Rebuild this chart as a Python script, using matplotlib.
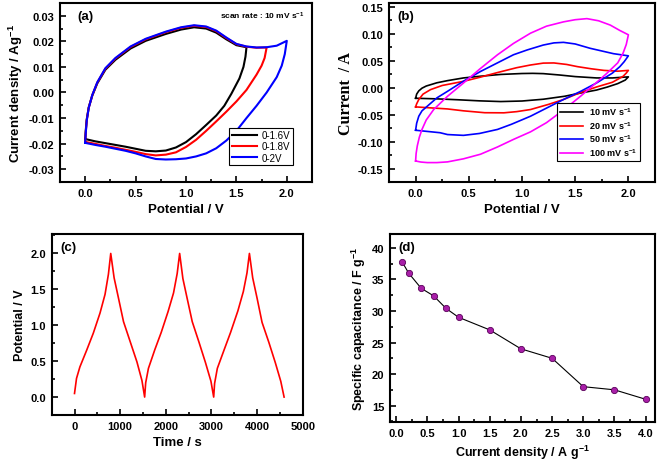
"""
    Four-panel supercapacitor figure: CV windows, CV scan rates, GCD cycles, rate capability.
"""

import numpy as np
import matplotlib
matplotlib.use("Agg")
import matplotlib.pyplot as plt
from matplotlib.ticker import MultipleLocator

plt.rcParams["font.family"] = "Liberation Sans"
plt.rcParams["font.weight"] = "bold"
plt.rcParams["mathtext.default"] = "regular"

# (a) CV at 10 mV/s for three potential windows (forward sweep then reverse)
v_16 = [0, 0.005, 0.015, 0.035, 0.07, 0.12, 0.2, 0.3, 0.45, 0.6, 0.8, 0.95, 1.08, 1.2, 1.3, 1.4, 1.5, 1.6,
        1.59, 1.57, 1.53, 1.45, 1.38, 1.3, 1.2, 1.1, 1.0, 0.9, 0.8, 0.7, 0.6, 0.5, 0.4, 0.3, 0.2, 0.1, 0.0]
i_16 = [-0.0182, -0.0150, -0.0105, -0.0058, -0.0012, 0.0036, 0.0089, 0.0128, 0.0172, 0.0202, 0.0229, 0.0246,
        0.0255, 0.0250, 0.0234, 0.0208, 0.0185, 0.0177,
        0.0140, 0.0100, 0.0055, -0.0005, -0.0052, -0.0090, -0.0127, -0.0163, -0.0194, -0.0215, -0.0227,
        -0.0230, -0.0228, -0.0220, -0.0212, -0.0205, -0.0198, -0.0191, -0.0182]

v_18 = [0, 0.005, 0.015, 0.035, 0.07, 0.12, 0.2, 0.3, 0.45, 0.6, 0.8, 0.95, 1.08, 1.2, 1.3, 1.4, 1.5, 1.6, 1.7, 1.8,
        1.78, 1.75, 1.7, 1.6, 1.5, 1.4, 1.3, 1.2, 1.1, 1.0, 0.9, 0.8, 0.7, 0.6, 0.5, 0.4, 0.3, 0.2, 0.1, 0.0]
i_18 = [-0.0193, -0.0158, -0.0109, -0.0059, -0.0011, 0.0039, 0.0093, 0.0133, 0.0178, 0.0208, 0.0236, 0.0253,
        0.0261, 0.0256, 0.0240, 0.0213, 0.0189, 0.0179, 0.0175, 0.0176,
        0.0135, 0.0105, 0.0070, 0.0010, -0.0035, -0.0075, -0.0113, -0.0150, -0.0185, -0.0213, -0.0234,
        -0.0243, -0.0246, -0.0241, -0.0232, -0.0224, -0.0216, -0.0209, -0.0201, -0.0193]

v_20 = [0, 0.005, 0.015, 0.035, 0.07, 0.12, 0.2, 0.3, 0.45, 0.6, 0.8, 0.95, 1.08, 1.2, 1.3, 1.4, 1.5, 1.6, 1.7,
        1.8, 1.9, 2.0,
        1.98, 1.95, 1.9, 1.8, 1.7, 1.6, 1.5, 1.4, 1.3, 1.2, 1.1, 1.0, 0.9, 0.8, 0.7, 0.6, 0.5, 0.4, 0.3, 0.2,
        0.1, 0.0]
i_20 = [-0.0196, -0.0160, -0.0110, -0.0060, -0.0010, 0.0040, 0.0095, 0.0135, 0.0180, 0.0210, 0.0238, 0.0255,
        0.0263, 0.0258, 0.0242, 0.0215, 0.0190, 0.0180, 0.0176, 0.0177, 0.0183, 0.0202,
        0.0150, 0.0105, 0.0060, 0.0000, -0.0052, -0.0100, -0.0150, -0.0188, -0.0218, -0.0238, -0.0250,
        -0.0258, -0.0261, -0.0262, -0.0260, -0.0250, -0.0238, -0.0228, -0.0220, -0.0212, -0.0205, -0.0197]

# (b) CV at different scan rates
v_10 = [0, 0.01, 0.03, 0.06, 0.1, 0.2, 0.3, 0.45, 0.6, 0.8, 1.0, 1.1, 1.2, 1.35, 1.5, 1.7, 1.85, 2.0,
        1.97, 1.9, 1.8, 1.7, 1.55, 1.4, 1.2, 1.0, 0.8, 0.6, 0.4, 0.2, 0.0]
c_10 = [-0.0197, -0.012, -0.006, -0.001, 0.003, 0.009, 0.013, 0.018, 0.021, 0.0245, 0.0262, 0.0265, 0.0260,
        0.0235, 0.0205, 0.0180, 0.0180, 0.0200,
        0.014, 0.0075, 0.0010, -0.0045, -0.010, -0.016, -0.0215, -0.0248, -0.0258, -0.0245, -0.0225, -0.0208,
        -0.0197]

v_20mv = [0, 0.01, 0.03, 0.07, 0.14, 0.25, 0.45, 0.6, 0.77, 0.95, 1.08, 1.2, 1.3, 1.42, 1.52, 1.65, 1.77, 1.9, 2.0,
          1.98, 1.95, 1.85, 1.7, 1.55, 1.39, 1.25, 1.08, 0.95, 0.83, 0.65, 0.45, 0.3, 0.14, 0.0]
c_20mv = [-0.0357, -0.030, -0.022, -0.012, -0.0037, 0.004, 0.0117, 0.019, 0.028, 0.037, 0.042, 0.0455, 0.0458,
          0.043, 0.039, 0.035, 0.032, 0.0305, 0.032,
          0.027, 0.021, 0.010, 0.0012, -0.009, -0.022, -0.031, -0.0406, -0.0445, -0.0467, -0.0465, -0.0430,
          -0.0395, -0.0375, -0.0357]

v_50 = [0, 0.01, 0.03, 0.06, 0.11, 0.2, 0.3, 0.45, 0.61, 0.77, 0.92, 1.05, 1.2, 1.3, 1.39, 1.5, 1.64, 1.75, 1.86, 2.0,
        1.96, 1.92, 1.85, 1.7, 1.55, 1.39, 1.2, 1.08, 0.9, 0.77, 0.6, 0.45, 0.3, 0.23, 0.1, 0.0]
c_50 = [-0.079, -0.066, -0.053, -0.043, -0.0344, -0.019, -0.0068, 0.012, 0.030, 0.046, 0.061, 0.070, 0.079,
        0.083, 0.084, 0.081, 0.073, 0.068, 0.063, 0.059,
        0.048, 0.039, 0.027, 0.0086, -0.007, -0.022, -0.041, -0.053, -0.068, -0.0775, -0.085, -0.0885,
        -0.087, -0.0836, -0.081, -0.079]

v_100 = [0, 0.005, 0.016, 0.035, 0.06, 0.1, 0.17, 0.3, 0.45, 0.6, 0.77, 0.92, 1.08, 1.23, 1.39, 1.5, 1.61, 1.72,
         1.83, 1.92, 2.0,
         1.98, 1.95, 1.9, 1.8, 1.68, 1.55, 1.4, 1.23, 1.08, 0.92, 0.77, 0.61, 0.45, 0.3, 0.2, 0.11, 0.05, 0.0]
c_100 = [-0.136, -0.122, -0.108, -0.092, -0.0775, -0.060, -0.0406, -0.016, 0.0086, 0.034, 0.061, 0.082, 0.101,
         0.114, 0.122, 0.126, 0.128, 0.124, 0.116, 0.106, 0.098,
         0.080, 0.064, 0.046, 0.027, 0.006, -0.016, -0.040, -0.065, -0.082, -0.096, -0.110, -0.1235, -0.132,
         -0.1377, -0.139, -0.139, -0.138, -0.136]

# (c) galvanostatic charge-discharge, three cycles
t_gcd = [0, 44, 118, 265, 412, 559, 669, 743, 794, 868, 963, 1074, 1221, 1368, 1478, 1537,
         1560, 1620, 1760, 1900, 2050, 2170, 2250, 2304, 2375, 2470, 2580, 2730, 2870, 2990, 3050,
         3070, 3130, 3280, 3420, 3580, 3700, 3780, 3833, 3905, 4000, 4110, 4260, 4400, 4520, 4593]
v_gcd = [0.05, 0.26, 0.42, 0.65, 0.89, 1.17, 1.43, 1.71, 2.0, 1.66, 1.38, 1.05, 0.77, 0.49, 0.23, 0.0,
         0.2, 0.4, 0.66, 0.9, 1.19, 1.45, 1.72, 2.0, 1.65, 1.37, 1.05, 0.76, 0.48, 0.22, 0.0,
         0.19, 0.4, 0.66, 0.9, 1.2, 1.47, 1.73, 2.0, 1.66, 1.38, 1.04, 0.76, 0.48, 0.22, 0.0]

# (d) specific capacitance vs current density
cur_density = [0.1, 0.2, 0.4, 0.6, 0.8, 1.0, 1.5, 2.0, 2.5, 3.0, 3.5, 4.0]
spec_cap = [37.7, 36.0, 33.6, 32.4, 30.4, 29.0, 27.0, 24.0, 22.5, 18.0, 17.5, 16.0]


def style_axes(ax, xmaj, ymaj):
    for sp in ax.spines.values():
        sp.set_linewidth(1.5)
    ax.xaxis.set_major_locator(MultipleLocator(xmaj))
    ax.xaxis.set_minor_locator(MultipleLocator(xmaj / 2))
    ax.yaxis.set_major_locator(MultipleLocator(ymaj))
    ax.yaxis.set_minor_locator(MultipleLocator(ymaj / 2))
    ax.tick_params(which="both", direction="in", top=False, right=False, width=1.2, labelsize=8, pad=4)
    ax.tick_params(which="major", length=4)
    ax.tick_params(which="minor", length=2)
    for lab in ax.get_xticklabels() + ax.get_yticklabels():
        lab.set_fontweight("bold")


fig = plt.figure(figsize=(6.61, 4.64), dpi=100)

# panel (a)
ax_a = fig.add_axes([0.0908, 0.6056, 0.3812, 0.3858])
ax_a.plot(v_16, i_16, color="black", lw=1.5, label="0-1.6V")
ax_a.plot(v_18, i_18, color="red", lw=1.5, label="0-1.8V")
ax_a.plot(v_20, i_20, color="blue", lw=1.5, label="0-2V")
ax_a.set_xlim(-0.25, 2.25)
ax_a.set_ylim(-0.035, 0.035)
style_axes(ax_a, 0.5, 0.01)
ax_a.yaxis.set_major_formatter(plt.FormatStrFormatter("%.2f"))
ax_a.set_xlabel("Potential / V", fontsize=9.5, fontweight="bold", labelpad=4)
ax_a.set_ylabel("Current density / Ag$^{-1}$", fontsize=9.5, fontweight="bold", labelpad=3)
ax_a.text(0.067, 0.93, "(a)", transform=ax_a.transAxes, fontsize=9.5, fontweight="bold", va="center")
ax_a.text(0.972, 0.93, "scan rate : 10 mV s$^{-1}$", transform=ax_a.transAxes, fontsize=6, fontweight="bold",
          va="center", ha="right")
leg_a = ax_a.legend(loc="lower right", bbox_to_anchor=(0.925, 0.095), borderaxespad=0, fancybox=False,
                    edgecolor="black", framealpha=1, handlelength=2.6, handletextpad=0.5, borderpad=0.25,
                    labelspacing=0.12, prop={"weight": "normal", "size": 7})
leg_a.get_frame().set_linewidth(0.8)

# panel (b)
ax_b = fig.add_axes([0.5885, 0.6056, 0.4024, 0.3858])
ax_b.plot(v_10, c_10, color="black", lw=1.2, label="10 mV s$^{-1}$")
ax_b.plot(v_20mv, c_20mv, color="red", lw=1.2, label="20 mV s$^{-1}$")
ax_b.plot(v_50, c_50, color="blue", lw=1.2, label="50 mV s$^{-1}$")
ax_b.plot(v_100, c_100, color="#ff00ff", lw=1.2, label="100 mV s$^{-1}$")
ax_b.set_xlim(-0.25, 2.25)
ax_b.set_ylim(-0.175, 0.157)
style_axes(ax_b, 0.5, 0.05)
ax_b.yaxis.set_major_formatter(plt.FormatStrFormatter("%.2f"))
ax_b.set_xlabel("Potential / V", fontsize=9.5, fontweight="bold", labelpad=4)
ax_b.set_ylabel("Current  / A", fontsize=11.5, fontweight="bold", family="Liberation Serif", labelpad=3)
ax_b.text(0.03, 0.93, "(b)", transform=ax_b.transAxes, fontsize=9.5, fontweight="bold", va="center")
leg_b = ax_b.legend(loc="lower right", bbox_to_anchor=(0.944, 0.117), borderaxespad=0, fancybox=False,
                    edgecolor="black", framealpha=1, handlelength=2.6, handletextpad=0.6, borderpad=0.35,
                    labelspacing=0.2, prop={"weight": "bold", "size": 6.5})
leg_b.get_frame().set_linewidth(0.8)

# panel (c)
ax_c = fig.add_axes([0.0782, 0.1034, 0.3797, 0.390])
ax_c.plot(t_gcd, v_gcd, color="red", lw=1.2)
ax_c.set_xlim(-500, 5000)
ax_c.set_ylim(-0.25, 2.27)
style_axes(ax_c, 1000, 0.5)
ax_c.yaxis.set_major_formatter(plt.FormatStrFormatter("%.1f"))
ax_c.set_xlabel("Time / s", fontsize=9.5, fontweight="bold", labelpad=4)
ax_c.set_ylabel("Potential / V", fontsize=9, fontweight="bold", labelpad=3)
ax_c.text(0.033, 0.93, "(c)", transform=ax_c.transAxes, fontsize=9.5, fontweight="bold", va="center")

# panel (d)
ax_d = fig.add_axes([0.59, 0.0884, 0.4009, 0.405])
ax_d.plot(cur_density, spec_cap, color="black", lw=0.8, marker="o", markersize=4.5,
          markerfacecolor="#a81fa8", markeredgecolor="#5a005a", markeredgewidth=0.6)
ax_d.set_xlim(-0.1, 4.15)
ax_d.set_ylim(12.4, 42.2)
style_axes(ax_d, 0.5, 5)
ax_d.xaxis.set_major_formatter(plt.FormatStrFormatter("%.1f"))
ax_d.set_xlabel("Current density / A g$^{-1}$", fontsize=9, fontweight="bold", labelpad=4)
ax_d.set_ylabel("Specific capacitance / F g$^{-1}$", fontsize=9, fontweight="bold", labelpad=3)
ax_d.text(0.03, 0.93, "(d)", transform=ax_d.transAxes, fontsize=9.5, fontweight="bold", va="center")

fig.savefig("out.png", dpi=100)
